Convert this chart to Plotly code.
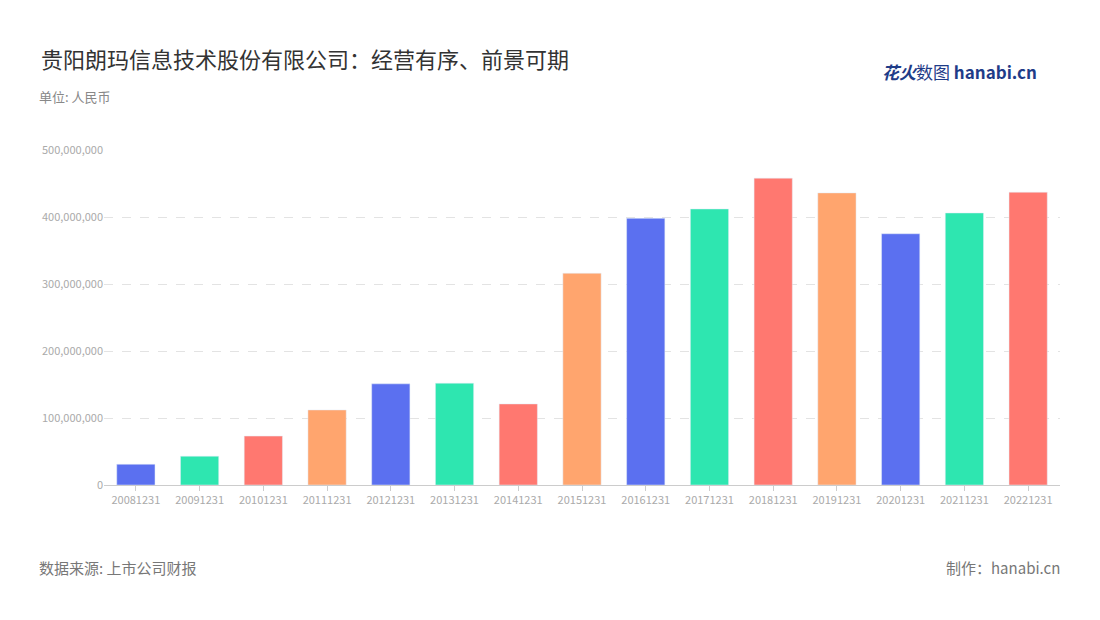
import plotly.graph_objects as go

years = ["20081231", "20091231", "20101231", "20111231", "20121231", "20131231", "20141231",
         "20151231", "20161231", "20171231", "20181231", "20191231", "20201231", "20211231", "20221231"]
revenue = [31e6, 43e6, 73e6, 112e6, 151e6, 152e6, 121e6, 316e6, 398e6, 412e6, 458e6, 436e6,
           375e6, 406e6, 437e6]
palette = ["#5B70F0", "#2EE6B0", "#FF7870", "#FFA56E"]
colors = [palette[i % 4] for i in range(len(years))]

font = "Noto Sans CJK SC"

fig = go.Figure(go.Bar(x=years, y=revenue, marker_color=colors, width=0.6))

fig.update_layout(
    width=1100, height=620,
    plot_bgcolor="white", paper_bgcolor="white",
    margin=dict(l=96, r=48, t=142, b=143),
    font=dict(family=font, color="#999"),
    showlegend=False,
    title=dict(text="贵阳朗玛信息技术股份有限公司：经营有序、前景可期", x=0.03, xanchor="left",
               y=0.915, yanchor="middle", font=dict(size=22, color="#333", family=font)),
    xaxis=dict(tickfont=dict(size=11, color="#aaa"), showline=True, linecolor="#ccc",
               ticks="outside", tickcolor="#ccc", ticklen=5),
    yaxis=dict(range=[0, 5e8], dtick=1e8, tickformat=",d", tickfont=dict(size=11, color="#aaa"),
               gridcolor="#e3e3e3", griddash="dash", zeroline=False),
)

fig.add_annotation(text="单位: 人民币", x=-0.07, y=1.16, xref="paper", yref="paper",
                   xanchor="left", yanchor="middle", showarrow=False,
                   font=dict(size=13, color="#888"))
fig.add_annotation(text="数据来源: 上市公司财报", x=-0.07, y=-0.245, xref="paper", yref="paper",
                   xanchor="left", yanchor="middle", showarrow=False,
                   font=dict(size=15, color="#777"))
fig.add_annotation(text="制作：hanabi.cn", x=1.002, y=-0.245, xref="paper", yref="paper",
                   xanchor="right", yanchor="middle", showarrow=False,
                   font=dict(size=15, color="#777"))
fig.add_annotation(text="<b><i>花火</i></b>数图 <b>hanabi.cn</b>", x=0.978, y=1.235, xref="paper",
                   yref="paper", xanchor="right", yanchor="middle", showarrow=False,
                   font=dict(size=17, color="#1f3c88"))

fig.write_html("out.html")
